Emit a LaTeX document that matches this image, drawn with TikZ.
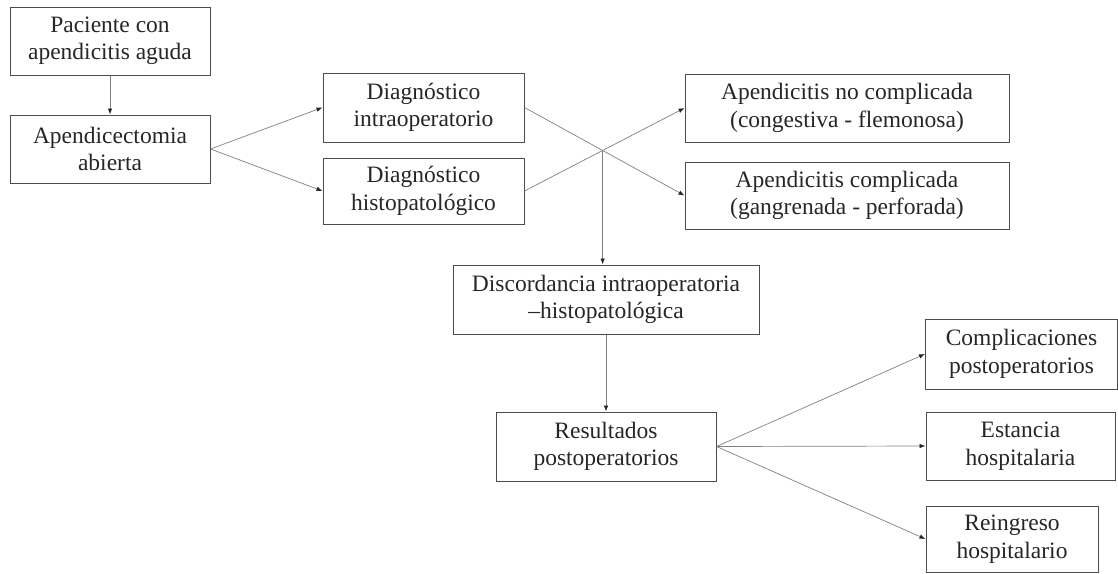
\documentclass[tikz,border=0pt]{standalone}
\usepackage{fontspec}
\setmainfont{Liberation Serif}
\usetikzlibrary{arrows.meta}

\begin{document}
\begin{tikzpicture}[x=1pt,y=-1pt,>={Latex[length=6pt,width=4.5pt,color=black!85]},
  stagebox/.style={draw=black!70,line width=1pt,align=center,inner sep=0pt,
    font=\fontsize{23.5}{27.5}\selectfont,text=black!85},
  link/.style={->,draw=black!50,line width=0.7pt}]
\useasboundingbox (0,0) rectangle (1118,573);
% Patient and surgery
\node[stagebox,minimum width=200,minimum height=68] (pac) at (110,41) {Paciente con\\apendicitis aguda};
\node[stagebox,minimum width=200,minimum height=68] (cir) at (110,149) {Apendicectomia\\abierta};
\draw[link] (pac) -- (cir);
% Both diagnoses
\node[stagebox,minimum width=201,minimum height=69] (intra) at (423.5,107.5) {Diagnóstico\\intraoperatorio};
\node[stagebox,minimum width=201,minimum height=66] (histo) at (423.5,191) {Diagnóstico\\histopatológico};
\draw[link] (cir.east) -- (intra.west);
\draw[link] (cir.east) -- (histo.west);
% Classification
\node[stagebox,minimum width=324,minimum height=68] (nocompl) at (847,108) {Apendicitis no complicada\\(congestiva - flemonosa)};
\node[stagebox,minimum width=324,minimum height=67] (compl) at (847,195.5) {Apendicitis complicada\\(gangrenada - perforada)};
\draw[link] (intra.east) -- (compl.west);
\draw[link] (histo.east) -- (nocompl.west);
% Discordance
\node[stagebox,minimum width=306,minimum height=69] (disc) at (606,299.5) {Discordancia intraoperatoria\\–histopatológica};
\coordinate (cruce) at (intersection of intra.east--compl.west and histo.east--nocompl.west);
\draw[link] (cruce) -- (cruce |- disc.north);
% Outcomes
\node[stagebox,minimum width=220,minimum height=69] (res) at (606,446.5) {Resultados\\postoperatorios};
\draw[link] (disc) -- (res);
\node[stagebox,minimum width=192,minimum height=70] (comp) at (1021.5,354) {Complicaciones\\postoperatorios};
\node[stagebox,minimum width=189,minimum height=68] (est) at (1020.5,446) {Estancia\\hospitalaria};
\node[stagebox,minimum width=172,minimum height=66] (rein) at (1012,539) {Reingreso\\hospitalario};
\foreach \n in {comp,est,rein}
  \draw[link] (res.east) -- (\n.west);
\end{tikzpicture}
\end{document}
